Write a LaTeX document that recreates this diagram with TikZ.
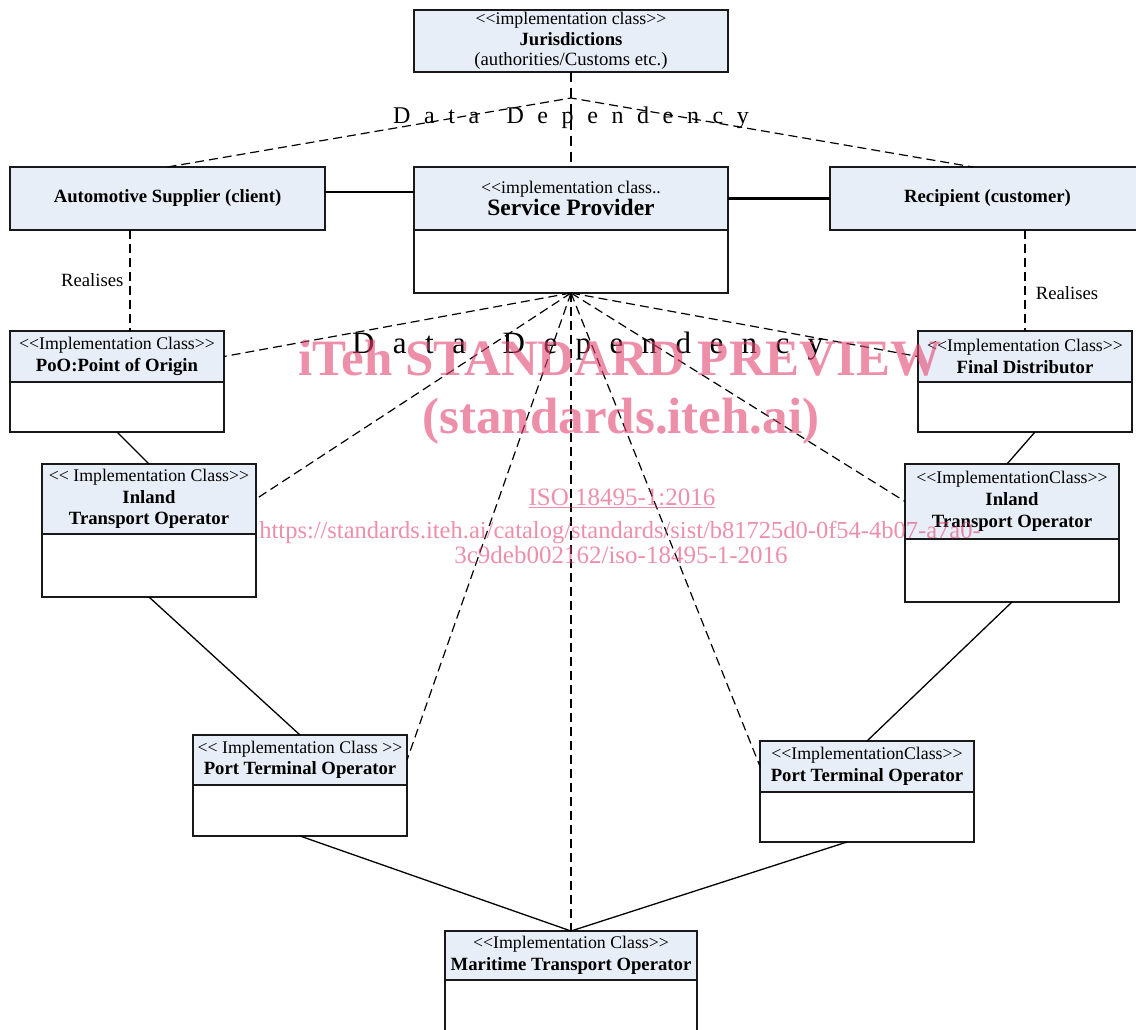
\documentclass[tikz,border=0pt]{standalone}
\usepackage{fontspec}
\setmainfont{Liberation Serif}
\usetikzlibrary{calc}
\definecolor{hdrfill}{RGB}{232,238,247}
\definecolor{wmk}{RGB}{227,68,113}
\newcommand\stl{<\kern0pt<}
\newcommand\stg{>\kern0pt>}
\newcommand\ster[1]{{\fontsize{17.8}{21}\selectfont #1}}
\newcommand\ddtext[2]{{\fontsize{#1}{#1}\selectfont\spaceskip=#2 D a t a\hspace{#2} D e p e n d e n c y}}
\tikzset{
  umlbox/.style={draw=black!90, line width=1.4pt, outer sep=0pt, inner xsep=1pt, inner ysep=0pt,
    align=center, font=\fontsize{18.7}{21.5}\selectfont},
  hdr/.style={umlbox, fill=hdrfill, anchor=north west},
  bdy/.style={umlbox, fill=white, anchor=north},
  depline/.style={line width=1.2pt, dash pattern=on 9pt off 5pt},
  thickdep/.style={line width=2.8pt, dash pattern=on 10pt off 6pt},
  assoc/.style={line width=1.3pt},
  thickassoc/.style={line width=2.8pt},
  lbl/.style={inner sep=0pt, font=\fontsize{18.7}{22}\selectfont},
  wm/.style={inner sep=0pt, text=wmk, text opacity=0.6}
}
\begin{document}
\begin{tikzpicture}[x=1pt,y=-1pt]
\path[use as bounding box] (0,0) rectangle (1136,1030);

% boxes
\node[hdr, minimum width=314, minimum height=62, font=\fontsize{18.7}{20.5}\selectfont] (jur) at (414,10)
  {\ster{\stl implementation class\stg}\\\textbf{Jurisdictions}\\(authorities/Customs etc.)};
\node[hdr, minimum width=315, minimum height=63] (aut) at (10,167)
  {\textbf{Automotive Supplier (client)}};
\node[hdr, minimum width=314, minimum height=63] (sph) at (414,167)
  {\ster{\stl implementation class..}\\[1pt]{\fontsize{23.5}{26}\selectfont\bfseries Service Provider}};
\node[bdy, minimum width=314, minimum height=63] (spb) at (sph.south) {};
\node[hdr, minimum width=315, minimum height=63] (rec) at (830,167)
  {\textbf{Recipient (customer)}};

\node[hdr, minimum width=214, minimum height=51] (pooh) at (10,331)
  {\ster{\stl Implementation Class\stg}\\\textbf{PoO:Point of Origin}};
\node[bdy, minimum width=214, minimum height=50] (poob) at (pooh.south) {};
\node[hdr, minimum width=214, minimum height=51] (fdh) at (918,331)
  {\ster{\stl Implementation Class\stg}\\\textbf{Final Distributor}};
\node[bdy, minimum width=214, minimum height=50] (fdb) at (fdh.south) {};

\node[hdr, minimum width=214, minimum height=70] (ilh) at (42,464)
  {\ster{\stl{} Implementation Class\stg}\\\textbf{Inland}\\\textbf{Transport Operator}};
\node[bdy, minimum width=214, minimum height=63] (ilb) at (ilh.south) {};
\node[hdr, minimum width=214, minimum height=75] (irh) at (905,464)
  {\ster{\stl ImplementationClass\stg}\\\textbf{Inland}\\[1pt]\textbf{Transport Operator}};
\node[bdy, minimum width=214, minimum height=63] (irb) at (irh.south) {};

\node[hdr, minimum width=214, minimum height=50] (plh) at (193,735)
  {\ster{\stl{} Implementation Class \stg}\\\textbf{Port Terminal Operator}};
\node[bdy, minimum width=214, minimum height=51] (plb) at (plh.south) {};
\node[hdr, minimum width=214, minimum height=51] (prh) at (760,741)
  {\ster{\stl ImplementationClass\stg}\\\textbf{Port Terminal Operator}};
\node[bdy, minimum width=214, minimum height=50] (prb) at (prh.south) {};

\node[hdr, minimum width=252, minimum height=49] (mh) at (445,931)
  {\ster{\stl Implementation Class\stg}\\\textbf{Maritime Transport Operator}};
\node[bdy, minimum width=252, minimum height=60] (mb) at (mh.south) {};

% top dependency
\draw[thickdep] (jur.south) -- (sph.north);
\coordinate (apex) at (571,98);
\draw[depline] (aut.north) -- (apex) -- ([xshift=-14.5pt]rec.north);
\node[lbl, anchor=base west] (dd1) at (393,124) {\ddtext{24pt}{13.6pt}};

% associations to service provider
\draw[thickassoc] ([yshift=6.5pt]aut.east) -- ([yshift=6.5pt]sph.west);
\draw[thickassoc] (sph.east) -- (rec.west);

% realises
\draw[depline] ([xshift=-37.5pt]aut.south) -- ([xshift=13pt]pooh.north)
  node[lbl, pos=0.5, left=6pt] {Realises};
\draw[depline, line width=1.8pt] ([xshift=37.5pt]rec.south) -- (fdh.north)
  node[lbl, pos=0.62, right=10pt] {Realises};

% data dependency fan
\draw[depline] (spb.south) -- (pooh.east);
\draw[depline] (spb.south) -- (ilh.east);
\draw[depline] (spb.south) -- (plh.east);
\draw[depline] (spb.south) -- (mh.north);
\draw[depline] (spb.south) -- (prh.west);
\draw[depline] (spb.south) -- (irh.west);
\draw[depline] (spb.south) -- (fdh.west);
\node[lbl, anchor=base west] (dd2) at (352,353) {\ddtext{31pt}{18.4pt}};

% chain
\draw[assoc] (poob.south) -- (ilh.north);
\draw[assoc] (ilb.south) -- (plh.north);
\draw[assoc] (plb.south) -- (mh.north);
\draw[assoc] ([xshift=10pt]fdb.south) -- ([xshift=-5pt]irh.north);
\draw[assoc] (irb.south) -- (prh.north);
\draw[assoc] ([xshift=-20pt]prb.south) -- (mh.north);

% watermark
\node[wm, anchor=base, font=\fontsize{51}{51}\selectfont\bfseries] (wm1) at (620,375) {iTeh STANDARD PREVIEW};
\node[wm, anchor=base, font=\fontsize{51}{51}\selectfont\bfseries] (wm2) at (621,433) {(standards.iteh.ai)};
\node[wm, anchor=base, font=\fontsize{25}{25}\selectfont] (wm3) at (622,505) {\underline{ISO 18495-1:2016}};
\node[wm, anchor=base, font=\fontsize{24.5}{25}\selectfont] (wm4) at (620,538) {https://standards.iteh.ai/catalog/standards/sist/b81725d0-0f54-4b07-a7a0-};
\node[wm, anchor=base, font=\fontsize{25}{25}\selectfont] (wm5) at (621,563) {3c9deb002162/iso-18495-1-2016};
\end{tikzpicture}
\end{document}
